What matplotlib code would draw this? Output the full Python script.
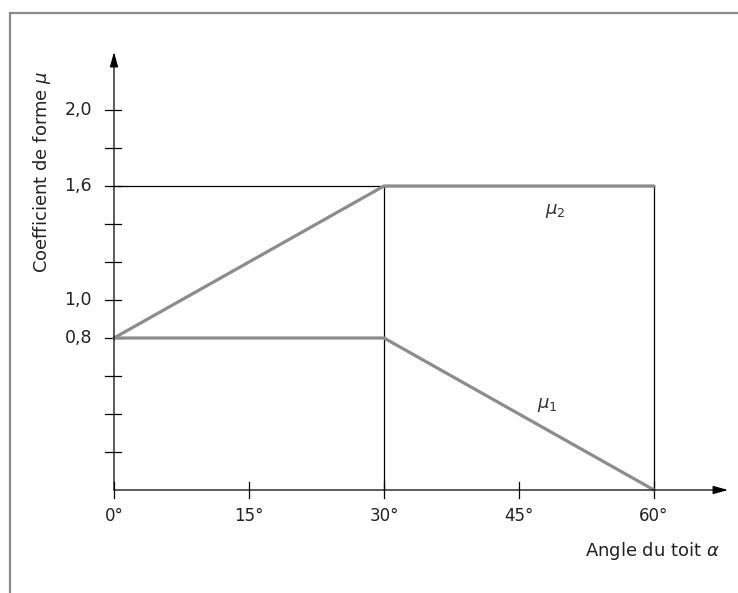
import matplotlib.pyplot as plt
from matplotlib.patches import Rectangle

# roof angle (deg) and shape coefficients
angles = [0, 30, 60]
mu1 = [0.8, 0.8, 0.0]
mu2 = [0.8, 1.6, 1.6]
x_ticks = [0, 15, 30, 45, 60]
x_tick_labels = ["0°", "15°", "30°", "45°", "60°"]
y_ticks = [0.2, 0.4, 0.6, 0.8, 1.0, 1.2, 1.4, 1.6, 1.8, 2.0]
y_tick_labels = {0.8: "0,8", 1.0: "1,0", 1.6: "1,6", 2.0: "2,0"}

W, H, DPI = 738, 593, 100
X0, SX = 114, 9.0      # pixel of 0 deg, pixels per degree
Y0, SY = 490, 190.0    # pixel of mu=0, pixels per unit mu

plt.rcParams["font.family"] = ["DejaVu Sans"]
fig = plt.figure(figsize=(W / DPI, H / DPI), dpi=DPI)
ax = fig.add_axes([0, 0, 1, 1])
ax.set_xlim(-X0 / SX, (W - X0) / SX)
ax.set_ylim((Y0 - H) / SY, Y0 / SY)
ax.axis("off")

# outer frame
fig.patches.append(Rectangle((10 / W, -0.1), 1.2, 1 - 13 / H + 0.1, transform=fig.transFigure,
                             fill=False, ec="#8a8a8a", lw=1.6))

dx = 8 / SX
dy = 8 / SY

# axes with arrows
ax.annotate("", xy=((728 - X0) / SX, 0), xytext=(0, 0),
            arrowprops=dict(arrowstyle="-|>,head_length=0.9,head_width=0.25", color="black", lw=0.9,
                            shrinkA=0, shrinkB=0))
ax.annotate("", xy=(0, (Y0 - 52) / SY), xytext=(0, 0),
            arrowprops=dict(arrowstyle="-|>,head_length=0.9,head_width=0.25", color="black", lw=0.9,
                            shrinkA=0, shrinkB=0))

# y ticks
for v in y_ticks:
    ax.plot([-9 / SX, 7 / SX], [v, v], color="black", lw=0.9)
    if v in y_tick_labels:
        ax.text(-22 / SX, v, y_tick_labels[v], ha="right", va="center", fontsize=12.5, color="#222222")

# x ticks
for a, lab in zip(x_ticks, x_tick_labels):
    ax.plot([a, a], [-dy, dy], color="black", lw=0.9)
    ax.text(a, -26 / SY, lab, ha="center", va="center", fontsize=12, color="#222222")

# thin reference lines
ax.plot([0, 60], [1.6, 1.6], color="black", lw=0.9)
ax.plot([30, 30], [0, 1.6], color="black", lw=0.9)
ax.plot([60, 60], [0, 1.6], color="black", lw=0.9)

# coefficient curves
ax.plot(angles, mu1, color="#8c8c8c", lw=2.3, solid_capstyle="round", solid_joinstyle="round")
ax.plot(angles, mu2, color="#8c8c8c", lw=2.3, solid_capstyle="round", solid_joinstyle="round")

ax.text(49.0, 1.47, r"$\mu_2$", ha="center", va="center", fontsize=13, color="#333333")
ax.text(48.1, 0.45, r"$\mu_1$", ha="center", va="center", fontsize=13, color="#333333")

ax.text((720 - X0) / SX, (Y0 - 551) / SY, r"Angle du toit $\alpha$", ha="right", va="center",
        fontsize=13, color="#222222")
ax.text((42 - X0) / SX, (Y0 - 172) / SY, r"Coefficient de forme $\mu$", ha="center", va="center",
        rotation=90, fontsize=13, color="#222222")

fig.savefig("out.png", dpi=DPI)
